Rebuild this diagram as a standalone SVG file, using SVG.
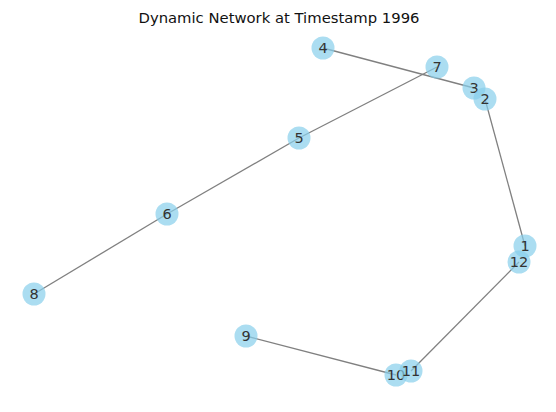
<svg xmlns="http://www.w3.org/2000/svg" width="556" height="412" viewBox="0 0 556 412">
<style>
.n{fill:#87ceeb;fill-opacity:0.7}
.t{font-family:"DejaVu Sans",sans-serif;font-size:14.5px;fill:#333;text-anchor:middle;dominant-baseline:central}
.e{stroke:#808080;stroke-width:1.3;fill:none}
</style>
<rect width="556" height="412" fill="#fff"/>
<text x="279" y="23" style="font-family:'DejaVu Sans',sans-serif;font-size:14.8px;fill:#111;text-anchor:middle">Dynamic Network at Timestamp 1996</text>
<g id="edges">
<line class="e" x1="323" y1="48" x2="474" y2="88"/>
<line class="e" x1="437" y1="67" x2="299" y2="138"/>
<line class="e" x1="299" y1="138" x2="167" y2="214"/>
<line class="e" x1="167" y1="214" x2="34" y2="294"/>
<line class="e" x1="485" y1="99" x2="525" y2="246"/>
<line class="e" x1="519" y1="262" x2="411" y2="371"/>
<line class="e" x1="246" y1="336" x2="396" y2="375"/>
</g>
<g id="n4"><circle class="n" cx="323" cy="48" r="11.5"/><text class="t" x="323" y="48">4</text></g>
<g id="n7"><circle class="n" cx="437" cy="67" r="11.5"/><text class="t" x="437" y="67">7</text></g>
<g id="n3"><circle class="n" cx="474" cy="88" r="11.5"/><text class="t" x="474" y="88">3</text></g>
<g id="n2"><circle class="n" cx="485" cy="99" r="11.5"/><text class="t" x="485" y="99">2</text></g>
<g id="n5"><circle class="n" cx="299" cy="138" r="11.5"/><text class="t" x="299" y="138">5</text></g>
<g id="n6"><circle class="n" cx="167" cy="214" r="11.5"/><text class="t" x="167" y="214">6</text></g>
<g id="n8"><circle class="n" cx="34" cy="294" r="11.5"/><text class="t" x="34" y="294">8</text></g>
<g id="n1"><circle class="n" cx="525" cy="246" r="11.5"/><text class="t" x="525" y="246">1</text></g>
<g id="n12"><circle class="n" cx="519" cy="262" r="11.5"/><text class="t" x="519" y="262">12</text></g>
<g id="n9"><circle class="n" cx="246" cy="336" r="11.5"/><text class="t" x="246" y="336">9</text></g>
<g id="n10"><circle class="n" cx="396" cy="375" r="11.5"/><text class="t" x="396" y="375">10</text></g>
<g id="n11"><circle class="n" cx="411" cy="371" r="11.5"/><text class="t" x="411" y="371">11</text></g>
</svg>
